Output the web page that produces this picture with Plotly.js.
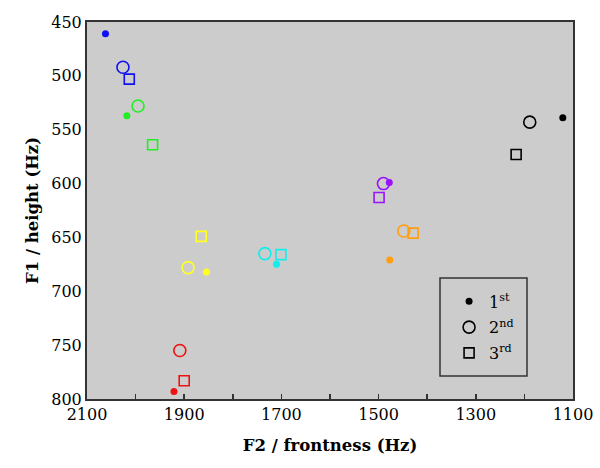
<!DOCTYPE html>
<html>
<head>
<meta charset="utf-8">
<script src="https://cdn.plot.ly/plotly-3.0.1.min.js"></script>
<style>html,body{margin:0;padding:0;background:#fff;}#chart{width:600px;height:468px;}</style>
</head>
<body>
<div id="chart"></div>
<script>
// Vowel groups (by colour)
const groupColors = ['#1010f0', '#22ee22', '#ffff22', '#ee1111', '#11eeee', '#9911ff', '#ff9f10', '#000000'];
// 1st formant measurements (F2, F1) per group
const f2First  = [2062, 2018, 1854, 1921, 1710, 1478, 1477, 1121];
const f1First  = [461, 537, 682, 793, 675, 599, 671, 539];
// 2nd
const f2Second = [2026, 1995, 1892, 1909, 1734, 1490, 1448, 1189];
const f1Second = [492, 528, 678, 755, 665, 600, 644, 543];
// 3rd
const f2Third  = [2013, 1965, 1865, 1900, 1701, 1499, 1429, 1217];
const f1Third  = [503, 564, 649, 783, 666, 613, 646, 573];

const legendLabels = ['1<sup>st</sup>', '2<sup>nd</sup>', '3<sup>rd</sup>'];

const font = '"DejaVu Serif", serif';

const traces = [
  {x: f2Third, y: f1Third, mode: 'markers', type: 'scatter', showlegend: false,
   marker: {symbol: 'square-open', size: 10, color: groupColors, line: {width: 1.6}}},
  {x: f2Second, y: f1Second, mode: 'markers', type: 'scatter', showlegend: false,
   marker: {symbol: 'circle-open', size: 12, color: groupColors, line: {width: 1.6}}},
  {x: f2First, y: f1First, mode: 'markers', type: 'scatter', showlegend: false,
   marker: {symbol: 'circle', size: 7, color: groupColors}},
  {x: [null], y: [null], mode: 'markers', type: 'scatter', name: legendLabels[0], legendgroup: 'g1',
   marker: {symbol: 'circle', size: 7, color: '#000'}},
  {x: [null], y: [null], mode: 'markers', type: 'scatter', name: legendLabels[1], legendgroup: 'g2',
   marker: {symbol: 'circle-open', size: 12, color: '#000', line: {width: 1.6}}},
  {x: [null], y: [null], mode: 'markers', type: 'scatter', name: legendLabels[2], legendgroup: 'g3',
   marker: {symbol: 'square-open', size: 10, color: '#000', line: {width: 1.6}}}
];

const layout = {
  width: 600, height: 468,
  margin: {l: 87, r: 27, t: 22, b: 69},
  paper_bgcolor: '#ffffff',
  plot_bgcolor: '#cccccc',
  font: {family: font, size: 16, color: '#000'},
  xaxis: {
    range: [2100, 1100], tick0: 2100, dtick: 200,
    ticks: 'inside', ticklen: 5, tickwidth: 1.5, tickcolor: '#333',
    minor: {dtick: 100, tick0: 2100, ticks: 'inside', ticklen: 5, tickwidth: 1.5, tickcolor: '#333', showgrid: false},
    showgrid: false, zeroline: false, showline: true, linecolor: '#333', linewidth: 2, mirror: true,
    tickfont: {family: font, size: 16},
    title: {text: '<b>F2 / frontness (Hz)</b>', font: {family: font, size: 16.5}, standoff: 16}
  },
  yaxis: {
    range: [800, 450], dtick: 50, tick0: 450, ticks: '',
    showgrid: false, zeroline: false, showline: true, linecolor: '#333', linewidth: 2, mirror: true,
    tickfont: {family: font, size: 16},
    title: {text: '<b>F1 / height (Hz)</b>', font: {family: font, size: 16.5}, standoff: 8}
  },
  showlegend: true,
  legend: {x: 0.745, y: 0.304, xanchor: 'left', yanchor: 'top', bgcolor: 'rgba(0,0,0,0)',
           traceorder: 'grouped', borderwidth: 0, font: {family: font, size: 16}, tracegroupgap: 2},
  shapes: [{type: 'rect', xref: 'paper', yref: 'paper',
            x0: (440 - 87) / 486, x1: (527 - 87) / 486,
            y0: (399 - 376) / 377, y1: (399 - 278) / 377,
            line: {color: '#333', width: 1.5}, fillcolor: 'rgba(0,0,0,0)'}]
};

Plotly.newPlot('chart', traces, layout, {displayModeBar: false, staticPlot: true});
</script>
</body>
</html>
